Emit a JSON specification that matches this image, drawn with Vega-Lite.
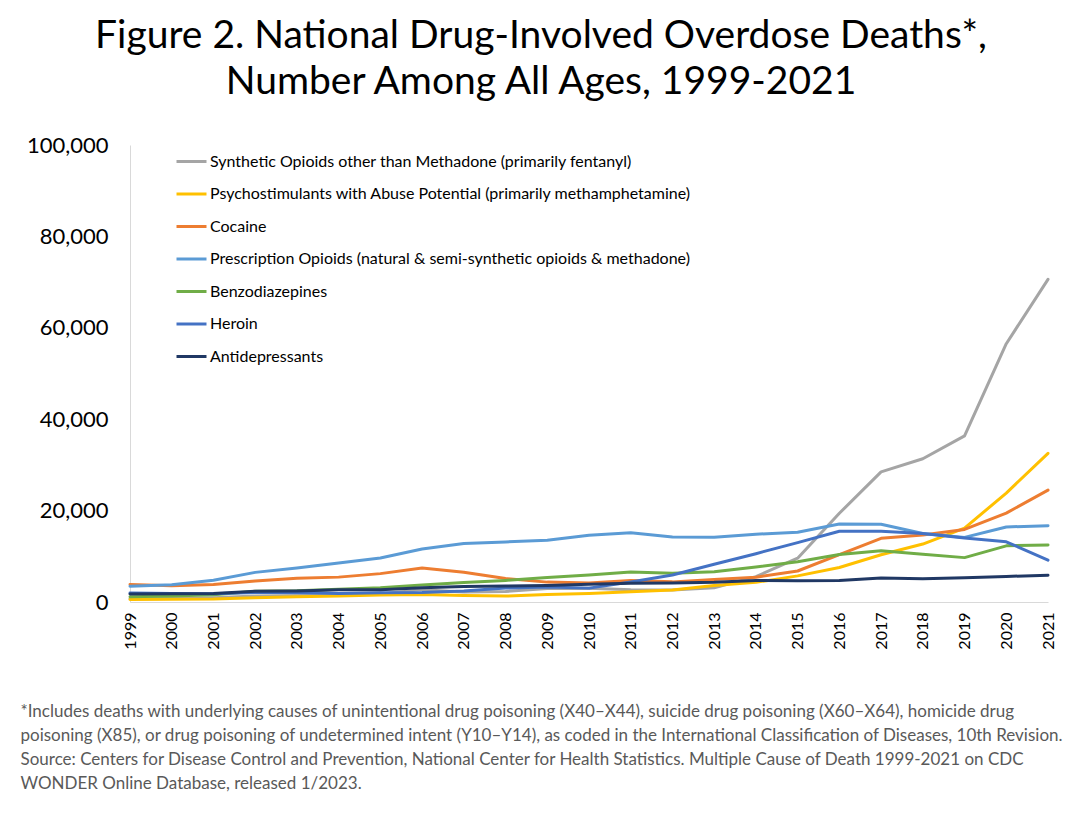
{
  "$schema": "https://vega.github.io/schema/vega-lite/v6.json",
  "autosize": "none",
  "width": 918,
  "height": 457,
  "padding": {"left": 130, "top": 145, "right": 33, "bottom": 211},
  "background": "white",
  "config": {
    "font": "Lato",
    "view": {"stroke": null}
  },
  "title": {
    "text": ["Figure 2. National Drug-Involved Overdose Deaths*,", "Number Among All Ages, 1999-2021"],
    "fontSize": 39,
    "fontWeight": "normal",
    "color": "#000000",
    "anchor": "middle",
    "frame": "group",
    "dx": -48,
    "offset": 32,
    "lineHeight": 46
  },
  "data": {
    "values": [
      {"year": "1999", "drug": "Synthetic Opioids other than Methadone (primarily fentanyl)", "deaths": 730},
      {"year": "2000", "drug": "Synthetic Opioids other than Methadone (primarily fentanyl)", "deaths": 782},
      {"year": "2001", "drug": "Synthetic Opioids other than Methadone (primarily fentanyl)", "deaths": 957},
      {"year": "2002", "drug": "Synthetic Opioids other than Methadone (primarily fentanyl)", "deaths": 1295},
      {"year": "2003", "drug": "Synthetic Opioids other than Methadone (primarily fentanyl)", "deaths": 1400},
      {"year": "2004", "drug": "Synthetic Opioids other than Methadone (primarily fentanyl)", "deaths": 1664},
      {"year": "2005", "drug": "Synthetic Opioids other than Methadone (primarily fentanyl)", "deaths": 1742},
      {"year": "2006", "drug": "Synthetic Opioids other than Methadone (primarily fentanyl)", "deaths": 2707},
      {"year": "2007", "drug": "Synthetic Opioids other than Methadone (primarily fentanyl)", "deaths": 2213},
      {"year": "2008", "drug": "Synthetic Opioids other than Methadone (primarily fentanyl)", "deaths": 2306},
      {"year": "2009", "drug": "Synthetic Opioids other than Methadone (primarily fentanyl)", "deaths": 2946},
      {"year": "2010", "drug": "Synthetic Opioids other than Methadone (primarily fentanyl)", "deaths": 3007},
      {"year": "2011", "drug": "Synthetic Opioids other than Methadone (primarily fentanyl)", "deaths": 2666},
      {"year": "2012", "drug": "Synthetic Opioids other than Methadone (primarily fentanyl)", "deaths": 2628},
      {"year": "2013", "drug": "Synthetic Opioids other than Methadone (primarily fentanyl)", "deaths": 3105},
      {"year": "2014", "drug": "Synthetic Opioids other than Methadone (primarily fentanyl)", "deaths": 5544},
      {"year": "2015", "drug": "Synthetic Opioids other than Methadone (primarily fentanyl)", "deaths": 9580},
      {"year": "2016", "drug": "Synthetic Opioids other than Methadone (primarily fentanyl)", "deaths": 19413},
      {"year": "2017", "drug": "Synthetic Opioids other than Methadone (primarily fentanyl)", "deaths": 28466},
      {"year": "2018", "drug": "Synthetic Opioids other than Methadone (primarily fentanyl)", "deaths": 31335},
      {"year": "2019", "drug": "Synthetic Opioids other than Methadone (primarily fentanyl)", "deaths": 36359},
      {"year": "2020", "drug": "Synthetic Opioids other than Methadone (primarily fentanyl)", "deaths": 56516},
      {"year": "2021", "drug": "Synthetic Opioids other than Methadone (primarily fentanyl)", "deaths": 70601},
      {"year": "1999", "drug": "Psychostimulants with Abuse Potential (primarily methamphetamine)", "deaths": 547},
      {"year": "2000", "drug": "Psychostimulants with Abuse Potential (primarily methamphetamine)", "deaths": 578},
      {"year": "2001", "drug": "Psychostimulants with Abuse Potential (primarily methamphetamine)", "deaths": 650},
      {"year": "2002", "drug": "Psychostimulants with Abuse Potential (primarily methamphetamine)", "deaths": 943},
      {"year": "2003", "drug": "Psychostimulants with Abuse Potential (primarily methamphetamine)", "deaths": 1170},
      {"year": "2004", "drug": "Psychostimulants with Abuse Potential (primarily methamphetamine)", "deaths": 1322},
      {"year": "2005", "drug": "Psychostimulants with Abuse Potential (primarily methamphetamine)", "deaths": 1505},
      {"year": "2006", "drug": "Psychostimulants with Abuse Potential (primarily methamphetamine)", "deaths": 1637},
      {"year": "2007", "drug": "Psychostimulants with Abuse Potential (primarily methamphetamine)", "deaths": 1428},
      {"year": "2008", "drug": "Psychostimulants with Abuse Potential (primarily methamphetamine)", "deaths": 1305},
      {"year": "2009", "drug": "Psychostimulants with Abuse Potential (primarily methamphetamine)", "deaths": 1631},
      {"year": "2010", "drug": "Psychostimulants with Abuse Potential (primarily methamphetamine)", "deaths": 1854},
      {"year": "2011", "drug": "Psychostimulants with Abuse Potential (primarily methamphetamine)", "deaths": 2266},
      {"year": "2012", "drug": "Psychostimulants with Abuse Potential (primarily methamphetamine)", "deaths": 2635},
      {"year": "2013", "drug": "Psychostimulants with Abuse Potential (primarily methamphetamine)", "deaths": 3627},
      {"year": "2014", "drug": "Psychostimulants with Abuse Potential (primarily methamphetamine)", "deaths": 4298},
      {"year": "2015", "drug": "Psychostimulants with Abuse Potential (primarily methamphetamine)", "deaths": 5716},
      {"year": "2016", "drug": "Psychostimulants with Abuse Potential (primarily methamphetamine)", "deaths": 7542},
      {"year": "2017", "drug": "Psychostimulants with Abuse Potential (primarily methamphetamine)", "deaths": 10333},
      {"year": "2018", "drug": "Psychostimulants with Abuse Potential (primarily methamphetamine)", "deaths": 12676},
      {"year": "2019", "drug": "Psychostimulants with Abuse Potential (primarily methamphetamine)", "deaths": 16167},
      {"year": "2020", "drug": "Psychostimulants with Abuse Potential (primarily methamphetamine)", "deaths": 23837},
      {"year": "2021", "drug": "Psychostimulants with Abuse Potential (primarily methamphetamine)", "deaths": 32537},
      {"year": "1999", "drug": "Cocaine", "deaths": 3822},
      {"year": "2000", "drug": "Cocaine", "deaths": 3544},
      {"year": "2001", "drug": "Cocaine", "deaths": 3833},
      {"year": "2002", "drug": "Cocaine", "deaths": 4599},
      {"year": "2003", "drug": "Cocaine", "deaths": 5199},
      {"year": "2004", "drug": "Cocaine", "deaths": 5443},
      {"year": "2005", "drug": "Cocaine", "deaths": 6208},
      {"year": "2006", "drug": "Cocaine", "deaths": 7448},
      {"year": "2007", "drug": "Cocaine", "deaths": 6512},
      {"year": "2008", "drug": "Cocaine", "deaths": 5129},
      {"year": "2009", "drug": "Cocaine", "deaths": 4350},
      {"year": "2010", "drug": "Cocaine", "deaths": 4183},
      {"year": "2011", "drug": "Cocaine", "deaths": 4681},
      {"year": "2012", "drug": "Cocaine", "deaths": 4404},
      {"year": "2013", "drug": "Cocaine", "deaths": 4944},
      {"year": "2014", "drug": "Cocaine", "deaths": 5415},
      {"year": "2015", "drug": "Cocaine", "deaths": 6784},
      {"year": "2016", "drug": "Cocaine", "deaths": 10375},
      {"year": "2017", "drug": "Cocaine", "deaths": 13942},
      {"year": "2018", "drug": "Cocaine", "deaths": 14666},
      {"year": "2019", "drug": "Cocaine", "deaths": 15883},
      {"year": "2020", "drug": "Cocaine", "deaths": 19447},
      {"year": "2021", "drug": "Cocaine", "deaths": 24486},
      {"year": "1999", "drug": "Prescription Opioids (natural & semi-synthetic opioids & methadone)", "deaths": 3442},
      {"year": "2000", "drug": "Prescription Opioids (natural & semi-synthetic opioids & methadone)", "deaths": 3785},
      {"year": "2001", "drug": "Prescription Opioids (natural & semi-synthetic opioids & methadone)", "deaths": 4770},
      {"year": "2002", "drug": "Prescription Opioids (natural & semi-synthetic opioids & methadone)", "deaths": 6483},
      {"year": "2003", "drug": "Prescription Opioids (natural & semi-synthetic opioids & methadone)", "deaths": 7456},
      {"year": "2004", "drug": "Prescription Opioids (natural & semi-synthetic opioids & methadone)", "deaths": 8517},
      {"year": "2005", "drug": "Prescription Opioids (natural & semi-synthetic opioids & methadone)", "deaths": 9612},
      {"year": "2006", "drug": "Prescription Opioids (natural & semi-synthetic opioids & methadone)", "deaths": 11589},
      {"year": "2007", "drug": "Prescription Opioids (natural & semi-synthetic opioids & methadone)", "deaths": 12796},
      {"year": "2008", "drug": "Prescription Opioids (natural & semi-synthetic opioids & methadone)", "deaths": 13149},
      {"year": "2009", "drug": "Prescription Opioids (natural & semi-synthetic opioids & methadone)", "deaths": 13523},
      {"year": "2010", "drug": "Prescription Opioids (natural & semi-synthetic opioids & methadone)", "deaths": 14583},
      {"year": "2011", "drug": "Prescription Opioids (natural & semi-synthetic opioids & methadone)", "deaths": 15140},
      {"year": "2012", "drug": "Prescription Opioids (natural & semi-synthetic opioids & methadone)", "deaths": 14240},
      {"year": "2013", "drug": "Prescription Opioids (natural & semi-synthetic opioids & methadone)", "deaths": 14145},
      {"year": "2014", "drug": "Prescription Opioids (natural & semi-synthetic opioids & methadone)", "deaths": 14838},
      {"year": "2015", "drug": "Prescription Opioids (natural & semi-synthetic opioids & methadone)", "deaths": 15281},
      {"year": "2016", "drug": "Prescription Opioids (natural & semi-synthetic opioids & methadone)", "deaths": 17087},
      {"year": "2017", "drug": "Prescription Opioids (natural & semi-synthetic opioids & methadone)", "deaths": 17029},
      {"year": "2018", "drug": "Prescription Opioids (natural & semi-synthetic opioids & methadone)", "deaths": 14975},
      {"year": "2019", "drug": "Prescription Opioids (natural & semi-synthetic opioids & methadone)", "deaths": 14139},
      {"year": "2020", "drug": "Prescription Opioids (natural & semi-synthetic opioids & methadone)", "deaths": 16416},
      {"year": "2021", "drug": "Prescription Opioids (natural & semi-synthetic opioids & methadone)", "deaths": 16706},
      {"year": "1999", "drug": "Benzodiazepines", "deaths": 1135},
      {"year": "2000", "drug": "Benzodiazepines", "deaths": 1298},
      {"year": "2001", "drug": "Benzodiazepines", "deaths": 1594},
      {"year": "2002", "drug": "Benzodiazepines", "deaths": 2358},
      {"year": "2003", "drug": "Benzodiazepines", "deaths": 2467},
      {"year": "2004", "drug": "Benzodiazepines", "deaths": 2809},
      {"year": "2005", "drug": "Benzodiazepines", "deaths": 3120},
      {"year": "2006", "drug": "Benzodiazepines", "deaths": 3733},
      {"year": "2007", "drug": "Benzodiazepines", "deaths": 4268},
      {"year": "2008", "drug": "Benzodiazepines", "deaths": 4731},
      {"year": "2009", "drug": "Benzodiazepines", "deaths": 5350},
      {"year": "2010", "drug": "Benzodiazepines", "deaths": 5934},
      {"year": "2011", "drug": "Benzodiazepines", "deaths": 6586},
      {"year": "2012", "drug": "Benzodiazepines", "deaths": 6280},
      {"year": "2013", "drug": "Benzodiazepines", "deaths": 6597},
      {"year": "2014", "drug": "Benzodiazepines", "deaths": 7662},
      {"year": "2015", "drug": "Benzodiazepines", "deaths": 8791},
      {"year": "2016", "drug": "Benzodiazepines", "deaths": 10416},
      {"year": "2017", "drug": "Benzodiazepines", "deaths": 11221},
      {"year": "2018", "drug": "Benzodiazepines", "deaths": 10470},
      {"year": "2019", "drug": "Benzodiazepines", "deaths": 9711},
      {"year": "2020", "drug": "Benzodiazepines", "deaths": 12290},
      {"year": "2021", "drug": "Benzodiazepines", "deaths": 12499},
      {"year": "1999", "drug": "Heroin", "deaths": 1960},
      {"year": "2000", "drug": "Heroin", "deaths": 1842},
      {"year": "2001", "drug": "Heroin", "deaths": 1779},
      {"year": "2002", "drug": "Heroin", "deaths": 2089},
      {"year": "2003", "drug": "Heroin", "deaths": 2080},
      {"year": "2004", "drug": "Heroin", "deaths": 1878},
      {"year": "2005", "drug": "Heroin", "deaths": 2009},
      {"year": "2006", "drug": "Heroin", "deaths": 2088},
      {"year": "2007", "drug": "Heroin", "deaths": 2399},
      {"year": "2008", "drug": "Heroin", "deaths": 3041},
      {"year": "2009", "drug": "Heroin", "deaths": 3278},
      {"year": "2010", "drug": "Heroin", "deaths": 3036},
      {"year": "2011", "drug": "Heroin", "deaths": 4397},
      {"year": "2012", "drug": "Heroin", "deaths": 5925},
      {"year": "2013", "drug": "Heroin", "deaths": 8257},
      {"year": "2014", "drug": "Heroin", "deaths": 10574},
      {"year": "2015", "drug": "Heroin", "deaths": 12989},
      {"year": "2016", "drug": "Heroin", "deaths": 15469},
      {"year": "2017", "drug": "Heroin", "deaths": 15482},
      {"year": "2018", "drug": "Heroin", "deaths": 14996},
      {"year": "2019", "drug": "Heroin", "deaths": 14019},
      {"year": "2020", "drug": "Heroin", "deaths": 13165},
      {"year": "2021", "drug": "Heroin", "deaths": 9173},
      {"year": "1999", "drug": "Antidepressants", "deaths": 1749},
      {"year": "2000", "drug": "Antidepressants", "deaths": 1803},
      {"year": "2001", "drug": "Antidepressants", "deaths": 1883},
      {"year": "2002", "drug": "Antidepressants", "deaths": 2326},
      {"year": "2003", "drug": "Antidepressants", "deaths": 2429},
      {"year": "2004", "drug": "Antidepressants", "deaths": 2675},
      {"year": "2005", "drug": "Antidepressants", "deaths": 2683},
      {"year": "2006", "drug": "Antidepressants", "deaths": 3114},
      {"year": "2007", "drug": "Antidepressants", "deaths": 3366},
      {"year": "2008", "drug": "Antidepressants", "deaths": 3479},
      {"year": "2009", "drug": "Antidepressants", "deaths": 3620},
      {"year": "2010", "drug": "Antidepressants", "deaths": 3889},
      {"year": "2011", "drug": "Antidepressants", "deaths": 4082},
      {"year": "2012", "drug": "Antidepressants", "deaths": 4150},
      {"year": "2013", "drug": "Antidepressants", "deaths": 4322},
      {"year": "2014", "drug": "Antidepressants", "deaths": 4698},
      {"year": "2015", "drug": "Antidepressants", "deaths": 4663},
      {"year": "2016", "drug": "Antidepressants", "deaths": 4694},
      {"year": "2017", "drug": "Antidepressants", "deaths": 5269},
      {"year": "2018", "drug": "Antidepressants", "deaths": 5064},
      {"year": "2019", "drug": "Antidepressants", "deaths": 5297},
      {"year": "2020", "drug": "Antidepressants", "deaths": 5597},
      {"year": "2021", "drug": "Antidepressants", "deaths": 5863}
    ]
  },
  "mark": {"type": "line", "strokeWidth": 3, "strokeCap": "round", "strokeJoin": "round"},
  "encoding": {
    "x": {
      "field": "year",
      "type": "ordinal",
      "scale": {"type": "point", "padding": 0},
      "axis": {
        "labelAngle": 270,
        "labelFontSize": 16,
        "labelColor": "#000000",
        "labelPadding": 10,
        "ticks": false,
        "domainColor": "#d9d9d9",
        "domainWidth": 1,
        "grid": false,
        "title": [
          "*Includes deaths with underlying causes of unintentional drug poisoning (X40–X44), suicide drug poisoning (X60–X64), homicide drug",
          "poisoning (X85), or drug poisoning of undetermined intent (Y10–Y14), as coded in the International Classification of Diseases, 10th Revision.",
          "Source: Centers for Disease Control and Prevention, National Center for Health Statistics. Multiple Cause of Death 1999-2021 on CDC",
          "WONDER Online Database, released 1/2023."
        ],
        "titleFontSize": 17,
        "titleFontWeight": "normal",
        "titleColor": "#595959",
        "titleAnchor": "start",
        "titleAlign": "left",
        "titleBaseline": "alphabetic",
        "titleX": -110,
        "titleY": 114,
        "titleLineHeight": 24
      }
    },
    "y": {
      "field": "deaths",
      "type": "quantitative",
      "scale": {"domain": [0, 100000], "nice": false},
      "axis": {
        "values": [0, 20000, 40000, 60000, 80000, 100000],
        "format": ",.0f",
        "labelFontSize": 22,
        "labelColor": "#000000",
        "labelPadding": 22,
        "ticks": false,
        "grid": false,
        "domainColor": "#d9d9d9",
        "domainWidth": 1,
        "title": null
      }
    },
    "color": {
      "field": "drug",
      "type": "nominal",
      "sort": null,
      "scale": {
        "domain": [
          "Synthetic Opioids other than Methadone (primarily fentanyl)",
          "Psychostimulants with Abuse Potential (primarily methamphetamine)",
          "Cocaine",
          "Prescription Opioids (natural & semi-synthetic opioids & methadone)",
          "Benzodiazepines",
          "Heroin",
          "Antidepressants"
        ],
        "range": ["#A5A5A5", "#FFC000", "#ED7D31", "#5B9BD5", "#70AD47", "#4472C4", "#203864"]
      },
      "legend": {
        "orient": "none",
        "legendX": 45,
        "legendY": 0,
        "title": null,
        "symbolType": "stroke",
        "symbolSize": 900,
        "symbolStrokeWidth": 3,
        "labelFontSize": 16,
        "labelColor": "#000000",
        "labelOffset": 2,
        "labelLimit": 700,
        "rowPadding": 7.5
      }
    }
  }
}
